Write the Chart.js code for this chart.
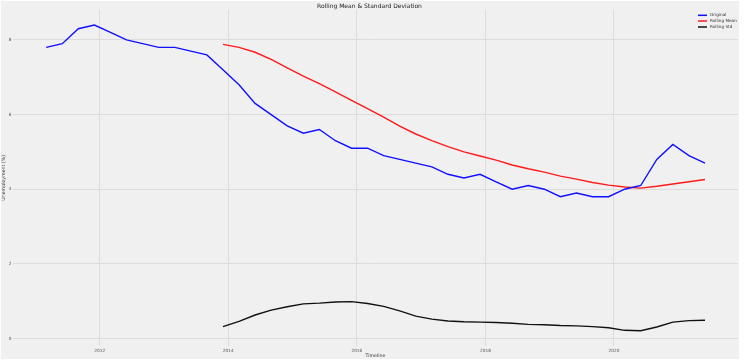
<!DOCTYPE html>
<html><head><meta charset="utf-8">
<script src="https://cdn.jsdelivr.net/npm/chart.js@4"></script>
<style>html,body{margin:0;padding:0;background:#fff;}canvas{display:block;}</style>
</head><body>
<canvas id="c" width="744" height="363"></canvas>
<script>
const dates = [
 '2011-03','2011-06','2011-09','2011-12',
 '2012-03','2012-06','2012-09','2012-12',
 '2013-03','2013-06','2013-09','2013-12',
 '2014-03','2014-06','2014-09','2014-12',
 '2015-03','2015-06','2015-09','2015-12',
 '2016-03','2016-06','2016-09','2016-12',
 '2017-03','2017-06','2017-09','2017-12',
 '2018-03','2018-06','2018-09','2018-12',
 '2019-03','2019-06','2019-09','2019-12',
 '2020-03','2020-06','2020-09','2020-12',
 '2021-03','2021-06'
];
const original = [
 7.8,7.9,8.3,8.4, 8.2,8.0,7.9,7.8, 7.8,7.7,7.6,7.2,
 6.8,6.3,6.0,5.7, 5.5,5.6,5.3,5.1, 5.1,4.9,4.8,4.7,
 4.6,4.4,4.3,4.4, 4.2,4.0,4.1,4.0, 3.8,3.9,3.8,3.8,
 4.0,4.1,4.8,5.2, 4.9,4.7
];
const rollingMean = [
 null,null,null,null,null,null,null,null,null,null,null,
 7.88,7.80,7.67,7.48,7.25,7.03,6.83,6.61,6.38,6.16,5.93,5.69,
 5.48,5.30,5.14,5.00,4.89,4.78,4.65,4.55,4.46,4.35,4.27,4.18,
 4.11,4.06,4.03,4.08,4.14,4.20,4.26
];
const rollingStd = [
 null,null,null,null,null,null,null,null,null,null,null,
 0.32,0.46,0.63,0.76,0.85,0.93,0.95,0.98,0.99,0.94,0.86,0.74,
 0.60,0.52,0.47,0.45,0.44,0.43,0.41,0.38,0.37,0.35,0.34,0.32,
 0.29,0.22,0.21,0.31,0.44,0.48,0.49
];
const xTickValues = [2012,2014,2016,2018,2020];
const yTickValues = [0,2,4,6,8];
const seriesLabels = ['Original','Rolling Mean','Rolling Std'];
const seriesColors = ['#1010ff','#ff1a1a','#111111'];

function toYear(s){const p=s.split('-').map(Number);return p[0]+(p[1]-1)/12;}
function pts(arr){return dates.map((d,i)=>({x:toYear(d),y:arr[i]}));}

const bgPlugin={id:'bg',beforeDraw(chart){const c=chart.ctx;c.save();c.fillStyle='#ffffff';c.fillRect(0,0,chart.width,chart.height);c.fillStyle='#f0f0f0';c.fillRect(1,1,738,358);c.restore();}};
const legendPlugin={id:'customLegend',afterDraw(chart){
  const c=chart.ctx;c.save();
  const ys=[15.3,21,27];
  chart.data.datasets.forEach((ds,i)=>{
    c.strokeStyle=ds.borderColor;c.lineWidth=1.5;
    c.beginPath();c.moveTo(698,ys[i]);c.lineTo(707,ys[i]);c.stroke();
    c.fillStyle='#333';c.font='4.2px "DejaVu Sans"';c.textBaseline='middle';c.textAlign='left';
    c.fillText(ds.label,710,ys[i]);
  });
  c.restore();}};

const fontTick={family:'"DejaVu Sans"',size:4.3};
new Chart(document.getElementById('c'),{
  type:'line',
  data:{datasets:[
    {label:seriesLabels[0],data:pts(original),borderColor:seriesColors[0],borderWidth:1.4,pointRadius:0,tension:0,fill:false},
    {label:seriesLabels[1],data:pts(rollingMean),borderColor:seriesColors[1],borderWidth:1.4,pointRadius:0,tension:0,fill:false,spanGaps:false},
    {label:seriesLabels[2],data:pts(rollingStd),borderColor:seriesColors[2],borderWidth:1.4,pointRadius:0,tension:0,fill:false,spanGaps:false}
  ]},
  options:{
    responsive:false,animation:false,devicePixelRatio:1,
    layout:{padding:{left:1,right:6,top:1,bottom:4}},
    plugins:{
      legend:{display:false},tooltip:{enabled:false},
      title:{display:true,text:'Rolling Mean & Standard Deviation',color:'#222',font:{family:'"DejaVu Sans"',size:6,weight:'normal'},padding:{top:1.5,bottom:0}}
    },
    scales:{
      x:{type:'linear',min:2010.65,max:2021.93,
        afterBuildTicks:s=>{s.ticks=xTickValues.map(v=>({value:v}));},
        afterFit:s=>{s.height=13;},
        ticks:{font:fontTick,color:'#555',padding:2,maxRotation:0,autoSkip:false,callback:v=>String(v)},
        grid:{color:'#dcdcdc',lineWidth:1,drawTicks:false},
        border:{display:false},
        title:{display:true,text:'Timeline',color:'#333',font:{family:'"DejaVu Sans"',size:4.7},padding:{top:1.5,bottom:0}}
      },
      y:{type:'linear',min:-0.2,max:8.81,
        afterBuildTicks:s=>{s.ticks=yTickValues.map(v=>({value:v}));},
        afterFit:s=>{s.width=12;},
        ticks:{font:fontTick,color:'#555',padding:1.5,callback:v=>String(v)},
        grid:{color:'#dcdcdc',lineWidth:1,drawTicks:false},
        border:{display:false},
        title:{display:true,text:'Unemployment (%)',color:'#333',font:{family:'"DejaVu Sans"',size:4.7},padding:{top:0,bottom:0}}
      }
    }
  },
  plugins:[bgPlugin,legendPlugin]
});
</script>
</body></html>
